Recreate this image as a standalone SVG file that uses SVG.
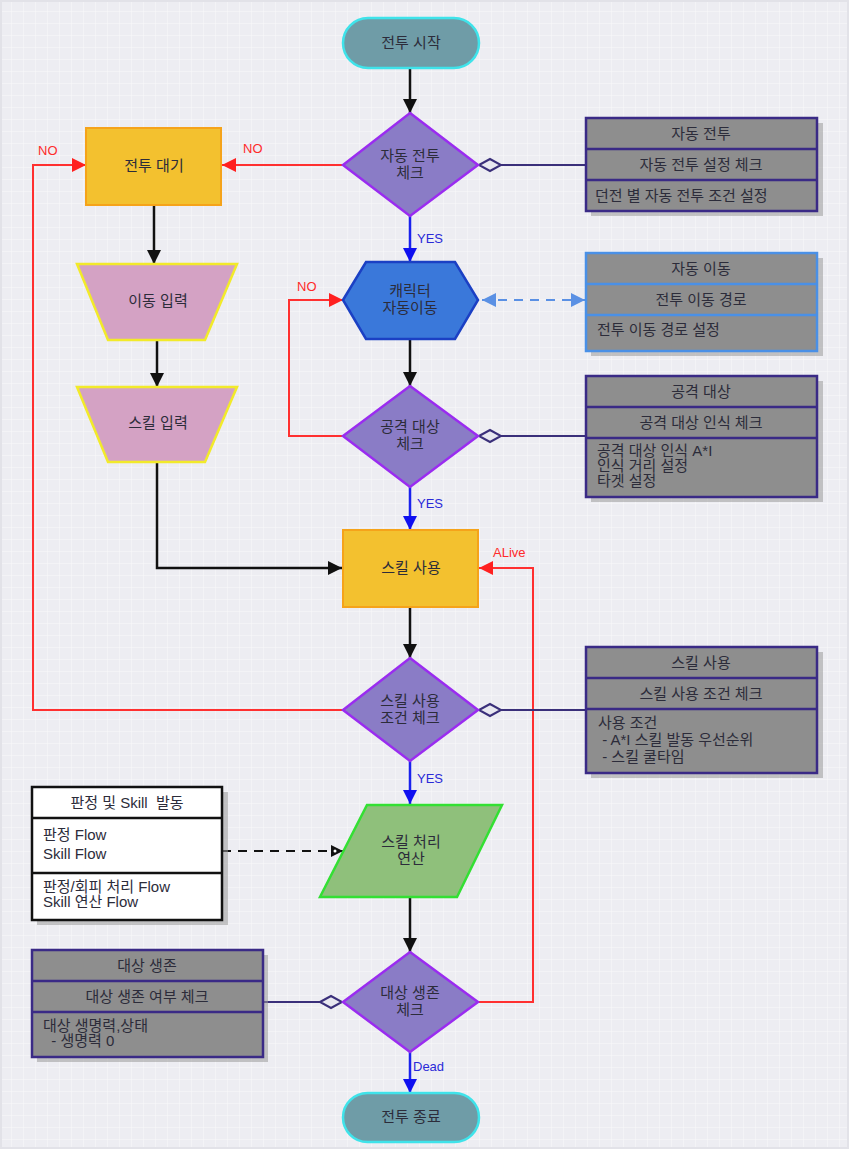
<svg xmlns="http://www.w3.org/2000/svg" width="849" height="1149" viewBox="0 0 849 1149">
<style>
text{font-family:"Liberation Sans","Noto Sans CJK KR",sans-serif;font-size:15px;fill:#2c2c3a}
.c{text-anchor:middle}
.term{fill:#6f9ca7;stroke:#3fe3ea;stroke-width:2.5}
.dia{fill:#8a7cc6;stroke:#9a2cf0;stroke-width:2.5}
.proc{fill:#f3c12f;stroke:#f5a31a;stroke-width:2}
.trap{fill:#d4a2c4;stroke:#f2ea2a;stroke-width:2.5}
.box{fill:#8e8e8e;stroke:#3a2a86;stroke-width:2.5}
.boxb{fill:#8e8e8e;stroke:#4a90e6;stroke-width:2.5}
.wbox{fill:#ffffff;stroke:#111;stroke-width:2.5}
.sh{fill:#9a9a9a;opacity:0.55}
.k{stroke:#111;stroke-width:2.5;fill:none}
.r{stroke:#ff3030;stroke-width:2;fill:none}
.b{stroke:#1a22ee;stroke-width:2.5;fill:none}
.n{stroke:#3a2f7a;stroke-width:2;fill:none}
.hd{fill:#e8e8f0;stroke:#3a2f7a;stroke-width:2}
.lr{fill:#ff2a2a;font-size:13px}
.lb{fill:#2a2ad8;font-size:13px}
</style>
<defs>
<pattern id="grid" width="12" height="12" patternUnits="userSpaceOnUse">
<rect width="12" height="12" fill="#ededf2"/>
<path d="M12 0V12M0 12H12" stroke="#f9f9fb" stroke-width="1"/>
</pattern>
<marker id="ak" markerUnits="userSpaceOnUse" markerWidth="14" markerHeight="14" refX="14" refY="7" orient="auto"><path d="M0,0L14,7L0,14z" fill="#111"/></marker>
<marker id="ar" markerUnits="userSpaceOnUse" markerWidth="14" markerHeight="14" refX="14" refY="7" orient="auto"><path d="M0,0L14,7L0,14z" fill="#ff2020"/></marker>
<marker id="ab" markerUnits="userSpaceOnUse" markerWidth="14" markerHeight="14" refX="14" refY="7" orient="auto"><path d="M0,0L14,7L0,14z" fill="#1010f0"/></marker>
<marker id="alb" markerUnits="userSpaceOnUse" markerWidth="14" markerHeight="14" refX="14" refY="7" orient="auto-start-reverse"><path d="M0,0L14,7L0,14z" fill="#5a90e4"/></marker>
<marker id="akd" markerUnits="userSpaceOnUse" markerWidth="12" markerHeight="12" refX="12" refY="6" orient="auto"><path d="M0,0L12,6L0,12z" fill="#111"/><circle cx="4" cy="6" r="1.5" fill="#fff"/></marker>
</defs>
<rect width="849" height="1149" fill="url(#grid)"/>
<rect x="1" y="1" width="847" height="1147" fill="none" stroke="#e2e2e8" stroke-width="2"/>

<g id="connectors">
<path class="k" d="M410,68V113" marker-end="url(#ak)"/>
<path class="r" d="M343,165H222" marker-end="url(#ar)"/>
<path class="b" d="M410,216V262" marker-end="url(#ab)"/>
<path class="k" d="M410,338V386" marker-end="url(#ak)"/>
<path class="r" d="M343,436H289V300H343" marker-end="url(#ar)"/>
<path class="b" d="M410,486V530" marker-end="url(#ab)"/>
<path class="k" d="M410,607V658" marker-end="url(#ak)"/>
<path class="r" d="M343,710H33V165H86" marker-end="url(#ar)"/>
<path class="b" d="M410,761V804" marker-end="url(#ab)"/>
<path class="k" d="M410,897V952" marker-end="url(#ak)"/>
<path class="r" d="M478,1002H533V568H479" marker-end="url(#ar)"/>
<path class="b" d="M410,1052V1093" marker-end="url(#ab)"/>
<path class="k" d="M154,205V264" marker-end="url(#ak)"/>
<path class="k" d="M157,340V387" marker-end="url(#ak)"/>
<path class="k" d="M157,462V568H342" marker-end="url(#ak)"/>
<path d="M482,300H585" stroke="#5a90e4" stroke-width="2" stroke-dasharray="9,7" fill="none" marker-start="url(#alb)" marker-end="url(#alb)"/>
<path d="M222,851H343" stroke="#111" stroke-width="2" stroke-dasharray="9,7" fill="none" marker-end="url(#akd)"/>
<path class="n" d="M500,165H587"/>
<path class="hd" d="M479,165L490,159L501,165L490,171z"/>
<path class="n" d="M500,436H587"/>
<path class="hd" d="M479,436L490,430L501,436L490,442z"/>
<path class="n" d="M500,710H587"/>
<path class="hd" d="M479,710L490,704L501,710L490,716z"/>
<path class="n" d="M263,1002H320"/>
<path class="hd" d="M320,1002L331,996L342,1002L331,1008z"/>
<text class="lr" x="243" y="153">NO</text>
<text class="lr" x="38" y="155">NO</text>
<text class="lr" x="297" y="291">NO</text>
<text class="lb" x="417" y="243">YES</text>
<text class="lb" x="417" y="508">YES</text>
<text class="lb" x="417" y="783">YES</text>
<text class="lr" x="493" y="557">ALive</text>
<text class="lb" x="413" y="1071">Dead</text>
</g>

<g id="start"><rect class="term" x="343" y="18" width="136" height="50" rx="25"/><text class="c" x="411" y="48">전투 시작</text></g>
<g id="auto-battle-check"><path class="dia" d="M410,113L478,165L410,216L343,165z"/><text class="c" x="410" y="161">자동 전투</text><text class="c" x="410" y="178">체크</text></g>
<g id="battle-wait"><rect class="proc" x="86" y="128" width="135" height="77"/><text class="c" x="154" y="171">전투 대기</text></g>
<g id="move-input"><path class="trap" d="M77,264H237L205,340H108z"/><text class="c" x="158" y="306">이동 입력</text></g>
<g id="skill-input"><path class="trap" d="M77,387H237L205,462H108z"/><text class="c" x="158" y="428">스킬 입력</text></g>
<g id="auto-move"><path d="M343,300L366,262H455L478,300L455,339H366z" fill="#3a78da" stroke="#1b40c4" stroke-width="2.5"/><text class="c" x="410" y="296">캐릭터</text><text class="c" x="410" y="313">자동이동</text></g>
<g id="target-check"><path class="dia" d="M410,386L478,436L410,487L343,436z"/><text class="c" x="410" y="432">공격 대상</text><text class="c" x="410" y="449">체크</text></g>
<g id="skill-use"><rect class="proc" x="343" y="530" width="135" height="77"/><text class="c" x="411" y="573">스킬 사용</text></g>
<g id="skill-cond-check"><path class="dia" d="M410,658L478,710L410,761L343,710z"/><text class="c" x="410" y="706">스킬 사용</text><text class="c" x="410" y="723">조건 체크</text></g>
<g id="skill-process"><path d="M367,805H502L457,897H320z" fill="#8fc07b" stroke="#33e033" stroke-width="2.5"/><text class="c" x="411" y="847">스킬 처리</text><text class="c" x="411" y="864">연산</text></g>
<g id="alive-check"><path class="dia" d="M410,952L478,1002L410,1052L343,1002z"/><text class="c" x="410" y="998">대상 생존</text><text class="c" x="410" y="1015">체크</text></g>
<g id="end"><rect class="term" x="343" y="1093" width="136" height="49" rx="24.5"/><text class="c" x="411" y="1122">전투 종료</text></g>

<g id="box-auto-battle">
<rect class="sh" x="591" y="123" width="232" height="93"/>
<rect class="box" x="586" y="118" width="231" height="93"/>
<path class="box" d="M586,149H817M586,180H817"/>
<text class="c" x="701" y="139">자동 전투</text>
<text class="c" x="701" y="170">자동 전투 설정 체크</text>
<text x="595" y="201">던전 별 자동 전투 조건 설정</text>
</g>
<g id="box-auto-move">
<rect class="sh" x="591" y="258" width="232" height="98"/>
<rect class="boxb" x="586" y="253" width="231" height="98"/>
<path class="boxb" d="M586,284H817M586,315H817"/>
<text class="c" x="701" y="274">자동 이동</text>
<text class="c" x="701" y="305">전투 이동 경로</text>
<text x="597" y="335">전투 이동 경로 설정</text>
</g>
<g id="box-target">
<rect class="sh" x="591" y="381" width="232" height="121"/>
<rect class="box" x="586" y="376" width="231" height="121"/>
<path class="box" d="M586,407H817M586,438H817"/>
<text class="c" x="701" y="397">공격 대상</text>
<text class="c" x="701" y="428">공격 대상 인식 체크</text>
<text x="597" y="456">공격 대상 인식 A*I</text>
<text x="597" y="471">인식 거리 설정</text>
<text x="597" y="486">타겟 설정</text>
</g>
<g id="box-skill-use">
<rect class="sh" x="591" y="652" width="232" height="126"/>
<rect class="box" x="586" y="647" width="231" height="126"/>
<path class="box" d="M586,678H817M586,709H817"/>
<text class="c" x="701" y="668">스킬 사용</text>
<text class="c" x="701" y="699">스킬 사용 조건 체크</text>
<text x="598" y="728">사용 조건</text>
<text x="598" y="745" xml:space="preserve"> - A*I 스킬 발동 우선순위</text>
<text x="598" y="762" xml:space="preserve"> - 스킬 쿨타임</text>
</g>
<g id="box-judge">
<rect class="sh" x="37" y="792" width="191" height="133"/>
<rect class="wbox" x="32" y="787" width="190" height="133"/>
<path class="wbox" d="M32,818H222M32,873H222"/>
<text class="c" x="127" y="808" xml:space="preserve">판정 및 Skill  발동</text>
<text x="43" y="840">판정 Flow</text>
<text x="43" y="859">Skill Flow</text>
<text x="43" y="892">판정/회피 처리 Flow</text>
<text x="43" y="907">Skill 연산 Flow</text>
</g>
<g id="box-alive">
<rect class="sh" x="37" y="955" width="231" height="107"/>
<rect class="box" x="32" y="950" width="231" height="107"/>
<path class="box" d="M32,981H263M32,1012H263"/>
<text class="c" x="147" y="971">대상 생존</text>
<text class="c" x="147" y="1002">대상 생존 여부 체크</text>
<text x="43" y="1031">대상 생명력,상태</text>
<text x="43" y="1046" xml:space="preserve">  - 생명력 0</text>
</g>
</svg>
